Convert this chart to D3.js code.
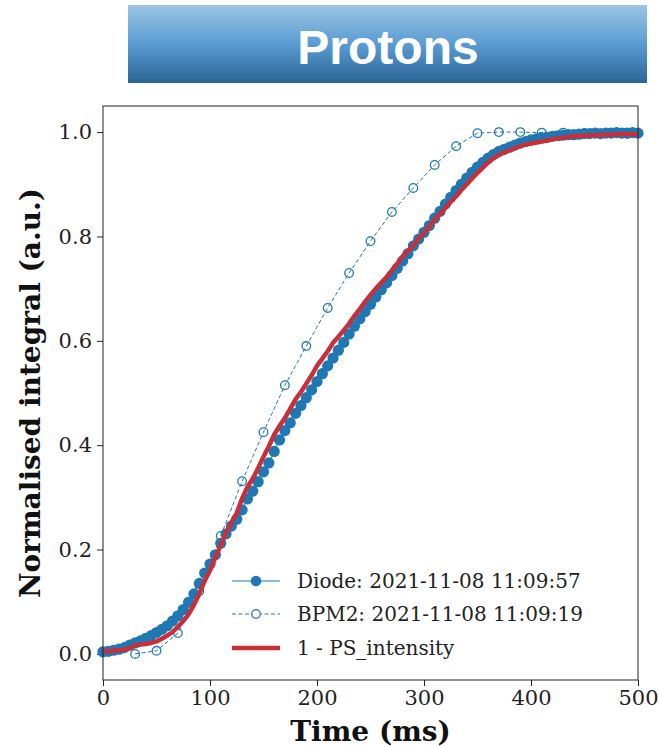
<!DOCTYPE html>
<html lang="en">
<head>
<meta charset="UTF-8">
<title>Protons</title>
<script src="https://d3js.org/d3.v7.min.js"></script>
<style>
    body { margin: 0; padding: 0; background: #fff; }
    svg { display: block; }
    .axis text { font-family: "DejaVu Serif", serif; font-size: 21px; fill: #222; }
    .axis line { stroke: #222; stroke-width: 1; }
    .axis-label { font-family: "DejaVu Serif", serif; font-weight: bold; font-size: 28px; fill: #111; }
    .legend text { font-family: "DejaVu Serif", serif; font-size: 20px; fill: #222; }
    .title { font-family: "Liberation Sans", Arial, sans-serif; font-weight: bold; font-size: 48px; fill: #fff; }
</style>
</head>
<body>
<svg id="chart"></svg>
<script>
    // ---- data ----
    const xTicks = [0, 100, 200, 300, 400, 500];
    const yTicks = [0.0, 0.2, 0.4, 0.6, 0.8, 1.0];
    const seriesNames = ["Diode: 2021-11-08 11:09:57", "BPM2: 2021-11-08 11:09:19", "1 - PS_intensity"];

    // diode + PS intensity sampled every 5 ms (0..500)
    const sampleTime = d3.range(0, 505, 5);
    const diodeValues = [
        0.004, 0.005, 0.007, 0.009, 0.012, 0.017, 0.021, 0.025, 0.030, 0.035,
        0.041, 0.047, 0.054, 0.063, 0.073, 0.085, 0.099, 0.115, 0.135, 0.155,
        0.172, 0.190, 0.212, 0.230, 0.245, 0.258, 0.276, 0.297, 0.312, 0.330,
        0.349, 0.366, 0.388, 0.410, 0.428, 0.443, 0.461, 0.476, 0.491, 0.506,
        0.522, 0.537, 0.552, 0.567, 0.582, 0.597, 0.613, 0.628, 0.642, 0.656,
        0.670, 0.684, 0.698, 0.711, 0.725, 0.739, 0.753, 0.767, 0.782, 0.795,
        0.808, 0.821, 0.835, 0.848, 0.862, 0.875, 0.888, 0.900, 0.912, 0.923,
        0.933, 0.942, 0.950, 0.957, 0.963, 0.967, 0.971, 0.975, 0.979, 0.982,
        0.985, 0.987, 0.989, 0.990, 0.992, 0.993, 0.994, 0.995, 0.995, 0.996,
        0.997, 0.997, 0.998, 0.997, 0.998, 0.998, 0.999, 0.998, 0.998, 0.999,
        0.998
    ];
    const psValues = [
        0.005, 0.005, 0.006, 0.007, 0.008, 0.011, 0.016, 0.018, 0.019, 0.021,
        0.024, 0.029, 0.035, 0.042, 0.052, 0.063, 0.076, 0.094, 0.115, 0.140,
        0.160, 0.185, 0.208, 0.232, 0.252, 0.270, 0.298, 0.320, 0.336, 0.356,
        0.378, 0.398, 0.420, 0.437, 0.452, 0.470, 0.488, 0.502, 0.518, 0.534,
        0.552, 0.566, 0.580, 0.596, 0.608, 0.620, 0.633, 0.648, 0.661, 0.675,
        0.688, 0.700, 0.711, 0.722, 0.735, 0.748, 0.762, 0.772, 0.783, 0.796,
        0.807, 0.819, 0.832, 0.843, 0.855, 0.866, 0.877, 0.889, 0.900, 0.911,
        0.922, 0.932, 0.942, 0.950, 0.956, 0.961, 0.965, 0.969, 0.973, 0.976,
        0.978, 0.980, 0.982, 0.984, 0.986, 0.988, 0.989, 0.991, 0.992, 0.993,
        0.993, 0.994, 0.994, 0.995, 0.995, 0.995, 0.996, 0.996, 0.996, 0.996,
        0.996
    ];

    // BPM2 sampled every 20 ms
    const bpmTime = [30, 50, 70, 90, 110, 130, 150, 170, 190, 210, 230, 250,
                     270, 290, 310, 330, 350, 370, 390, 410, 430, 450, 470, 490];
    const bpmValues = [0.000, 0.006, 0.040, 0.120, 0.226, 0.331, 0.425, 0.515, 0.590,
                       0.663, 0.730, 0.791, 0.847, 0.893, 0.937, 0.973, 0.998, 1.000, 1.000,
                       0.999, 0.999, 0.998, 0.998, 0.997];

    const blue = "#1f77b4";
    const red = "#c92f38";

    const width = 659;
    const height = 747;
    const margin = { top: 106, right: 21, bottom: 67, left: 103 };

    const svg = d3.select("#chart")
        .attr("width", width)
        .attr("height", height);

    // title banner
    const grad = svg.append("defs").append("linearGradient")
        .attr("id", "banner").attr("x1", 0).attr("y1", 0).attr("x2", 0).attr("y2", 1);
    grad.append("stop").attr("offset", "0%").attr("stop-color", "#9cc4e4");
    grad.append("stop").attr("offset", "50%").attr("stop-color", "#5a9cd2");
    grad.append("stop").attr("offset", "100%").attr("stop-color", "#2a6594");

    svg.append("rect")
        .attr("x", 128).attr("y", 5)
        .attr("width", 519).attr("height", 78)
        .attr("fill", "url(#banner)");

    svg.append("text")
        .attr("class", "title")
        .attr("x", 388).attr("y", 64)
        .attr("text-anchor", "middle")
        .text("Protons");

    const x = d3.scaleLinear()
        .domain([0, 500])
        .range([margin.left, width - margin.right]);

    const y = d3.scaleLinear()
        .domain([-0.05, 1.05])
        .range([height - margin.bottom, margin.top]);

    // axes
    const xAxis = svg.append("g")
        .attr("class", "axis")
        .attr("transform", `translate(0,${height - margin.bottom})`)
        .call(d3.axisBottom(x).tickValues(xTicks).tickSize(6).tickPadding(4).tickFormat(d3.format("d")));
    xAxis.select(".domain").remove();

    const yAxis = svg.append("g")
        .attr("class", "axis")
        .attr("transform", `translate(${margin.left},0)`)
        .call(d3.axisLeft(y).tickValues(yTicks).tickSize(6).tickPadding(5).tickFormat(d3.format(".1f")));
    yAxis.select(".domain").remove();

    // series
    const line = d3.line()
        .x(d => x(d[0]))
        .y(d => y(d[1]));

    const diode = sampleTime.map((t, i) => [t, diodeValues[i]]);
    const ps = sampleTime.map((t, i) => [t, psValues[i]]);
    const bpm = bpmTime.map((t, i) => [t, bpmValues[i]]);

    svg.append("path")
        .datum(diode)
        .attr("d", line)
        .attr("fill", "none")
        .attr("stroke", blue)
        .attr("stroke-width", 1);

    svg.append("g").selectAll("circle")
        .data(diode)
        .join("circle")
        .attr("cx", d => x(d[0]))
        .attr("cy", d => y(d[1]))
        .attr("r", 5.6)
        .attr("fill", blue);

    svg.append("path")
        .datum(bpm)
        .attr("d", line)
        .attr("fill", "none")
        .attr("stroke", blue)
        .attr("stroke-width", 1)
        .attr("stroke-dasharray", "4,2.5");

    svg.append("g").selectAll("circle")
        .data(bpm)
        .join("circle")
        .attr("cx", d => x(d[0]))
        .attr("cy", d => y(d[1]))
        .attr("r", 4.3)
        .attr("fill", "none")
        .attr("stroke", blue)
        .attr("stroke-width", 1.3);

    svg.append("path")
        .datum(ps)
        .attr("d", line)
        .attr("fill", "none")
        .attr("stroke", red)
        .attr("stroke-width", 4.5)
        .attr("stroke-linejoin", "round");

    // frame
    svg.append("rect")
        .attr("x", margin.left)
        .attr("y", margin.top)
        .attr("width", width - margin.left - margin.right)
        .attr("height", height - margin.top - margin.bottom)
        .attr("fill", "none")
        .attr("stroke", "#222")
        .attr("stroke-width", 1);

    // axis labels
    svg.append("text")
        .attr("class", "axis-label")
        .attr("x", (margin.left + width - margin.right) / 2)
        .attr("y", 741)
        .attr("text-anchor", "middle")
        .text("Time (ms)");

    svg.append("text")
        .attr("class", "axis-label")
        .attr("transform", `translate(40,${(margin.top + height - margin.bottom) / 2}) rotate(-90)`)
        .attr("text-anchor", "middle")
        .text("Normalised integral (a.u.)");

    // legend
    const legend = svg.append("g").attr("class", "legend");
    const legendRows = [581, 614, 648];
    const hx0 = 232, hx1 = 280, tx = 297;

    seriesNames.forEach((name, i) => {
        const row = legend.append("g").attr("transform", `translate(0,${legendRows[i]})`);
        if (i === 0) {
            row.append("line").attr("x1", hx0).attr("x2", hx1)
                .attr("stroke", blue).attr("stroke-width", 1);
            row.append("circle").attr("cx", (hx0 + hx1) / 2).attr("r", 5.3).attr("fill", blue);
        } else if (i === 1) {
            row.append("line").attr("x1", hx0).attr("x2", hx1)
                .attr("stroke", blue).attr("stroke-width", 1).attr("stroke-dasharray", "4,2.5");
            row.append("circle").attr("cx", (hx0 + hx1) / 2).attr("r", 4.3)
                .attr("fill", "#fff").attr("stroke", blue).attr("stroke-width", 1.3);
        } else {
            row.append("line").attr("x1", hx0).attr("x2", hx1)
                .attr("stroke", red).attr("stroke-width", 4.5);
        }
        row.append("text")
            .attr("x", tx)
            .attr("dy", "0.35em")
            .text(name);
    });
</script>
</body>
</html>
